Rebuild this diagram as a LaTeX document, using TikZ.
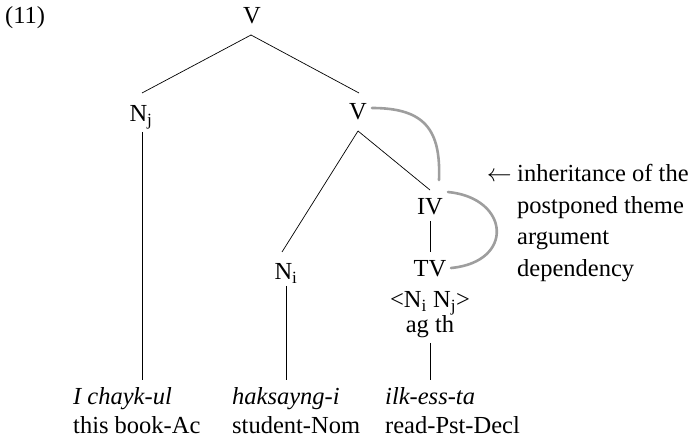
\documentclass[tikz,border=0pt]{standalone}
\usepackage{fontspec}
\setmainfont{Liberation Serif}
\begin{document}
\begin{tikzpicture}[x=1pt,y=-1pt,
  every node/.style={font=\fontsize{24.5}{31.5}\selectfont, inner sep=0pt},
  lbl/.style={anchor=base},
  br/.style={line width=0.7pt},
  dep/.style={line width=2.6pt, draw=black!38, line cap=round}]
\useasboundingbox (0,0) rectangle (696,443);
% labels
\node[anchor=base west] (ex) at (5,24) {(11)};
\node[lbl] (v1) at (252,24) {V};
\node[lbl] (nj) at (141,122) {N\textsubscript{j}};
\node[lbl] (v2) at (358,120) {V};
\node[lbl] (ni) at (286,280) {N\textsubscript{i}};
\node[lbl] (iv) at (430,215) {IV};
\node[lbl] (tv) at (430,277) {TV};
\node[lbl] (args) at (430,308) {<N\textsubscript{i} N\textsubscript{j}>};
\node[lbl] (agth) at (430,333) {ag th};
% words
\node[anchor=base west] (w1) at (73,405) {\itshape I chayk-ul};
\node[anchor=base west] (g1) at (73,433) {this book-Ac};
\node[anchor=base west] (w2) at (232,405) {\itshape haksayng-i};
\node[anchor=base west] (g2) at (232,433) {student-Nom};
\node[anchor=base west] (w3) at (385,405) {\itshape ilk-ess-ta};
\node[anchor=base west] (g3) at (385,433) {read-Pst-Decl};
% note
\node[anchor=base west, align=left] (note) at (517,276.5) {inheritance of the\\postponed theme\\argument\\dependency};
\node[anchor=base east] (arr) at (512,182) {$\leftarrow$};
% branches
\coordinate (v1b) at (251,35);
\coordinate (njt) at (142,93);
\coordinate (v2t) at (359,93);
\coordinate (v2b) at (358,131);
\coordinate (nit) at (282,252);
\coordinate (ivt) at (430,190);
\draw[br] (v1b) -- (njt);
\draw[br] (v1b) -- (v2t);
\draw[br] (v2b) -- (nit);
\draw[br] (v2b) -- (ivt);
\draw[br] (142,132) -- (142,380);
\draw[br] (286,286) -- (286,380);
\draw[br] (430,221) -- (430,252);
\draw[br] (430,343) -- (430,380);
% dependency arcs
\coordinate (d1s) at (372,108);
\coordinate (d1e) at (439,180);
\draw[dep] (d1s) .. controls (425,108) and (441,130) .. (d1e);
\coordinate (d2s) at (448,192);
\coordinate (d2e) at (451,268);
\draw[dep] (d2s) .. controls (510,198) and (515,262) .. (d2e);
\end{tikzpicture}
\end{document}
